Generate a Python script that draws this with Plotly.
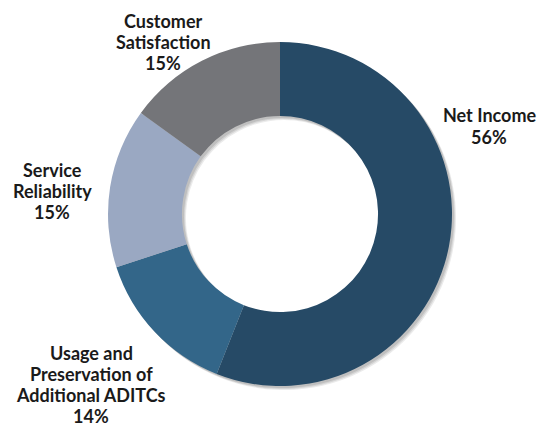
import plotly.graph_objects as go

# Share of incentive compensation by performance measure
categories = [
    "Net Income",
    "Usage and Preservation of Additional ADITCs",
    "Service Reliability",
    "Customer Satisfaction",
]
shares = [56, 14, 15, 15]
colors = ["#264a66", "#336689", "#9aa8c2", "#747579"]

# How each category name wraps in its callout
wrapped = {
    "Net Income": ["Net Income"],
    "Usage and Preservation of Additional ADITCs": ["Usage and", "Preservation of", "Additional ADITCs"],
    "Service Reliability": ["Service", "Reliability"],
    "Customer Satisfaction": ["Customer", "Satisfaction"],
}

W, H = 542, 426
cx, cy, R = 280, 214, 172  # ring centre and outer radius, in pixels
LINE = 21.0                # callout line spacing, pixels


def domain(dx=0, dy=0):
    return dict(
        x=[(cx + dx - R) / W, (cx + dx + R) / W],
        y=[(H - cy - dy - R) / H, (H - cy - dy + R) / H],
    )


fig = go.Figure()

# soft drop shadow under the ring
for off, op in [(4, 0.10), (3, 0.12), (2, 0.14)]:
    fig.add_trace(go.Pie(
        values=shares, labels=categories, sort=False, direction="clockwise",
        hole=0.57, domain=domain(off, off), textinfo="none", hoverinfo="skip",
        marker=dict(colors=["rgba(60,60,60,%.2f)" % op] * len(shares), line=dict(width=0)),
        showlegend=False,
    ))

fig.add_trace(go.Pie(
    values=shares, labels=categories, sort=False, direction="clockwise",
    hole=0.57, domain=domain(), textinfo="none",
    marker=dict(colors=colors, line=dict(width=0)),
    showlegend=False,
))

# callout block centres (pixels)
label_pos = {
    "Net Income": (489, 126),
    "Usage and Preservation of Additional ADITCs": (91, 384),
    "Service Reliability": (52, 191),
    "Customer Satisfaction": (163, 42),
}

for cat, val in zip(categories, shares):
    px, py = label_pos[cat]
    lines = wrapped[cat] + [f"{val}%"]
    top = py - LINE * (len(lines) - 1) / 2
    for i, line in enumerate(lines):
        fig.add_annotation(
            x=px / W, y=1 - (top + i * LINE) / H, xref="paper", yref="paper",
            text=line, showarrow=False,
            xanchor="center", yanchor="middle", align="center",
            font=dict(family="Lato", size=18, color="#1a1a1a", weight="bold"),
        )

fig.update_layout(
    width=W, height=H, margin=dict(l=0, r=0, t=0, b=0),
    paper_bgcolor="white", plot_bgcolor="white",
)

fig.write_html("out.html")
